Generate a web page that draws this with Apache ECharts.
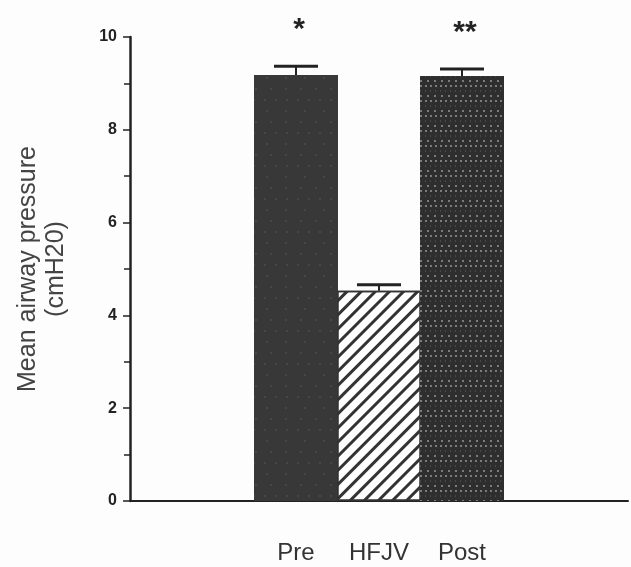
<!DOCTYPE html>
<html><head><meta charset="utf-8">
<script src="https://cdn.jsdelivr.net/npm/echarts@6/dist/echarts.min.js"></script>
<style>html,body{margin:0;padding:0;background:#fdfdfd}#c{width:631px;height:567px}</style>
</head><body><div id="c"></div>
<script>
var categories = ['Pre', 'HFJV', 'Post'];
var positions = [2, 3, 4];
var means = [9.18, 4.53, 9.16];
var errors = [0.19, 0.13, 0.15];
var marks = ['*', '', '**'];
var yTicks = [0, 2, 4, 6, 8, 10];

var styles = [
  {color:'#383838', decal:{symbol:'circle', color:'rgba(255,255,255,0.18)', symbolSize:0.8, dashArrayX:[[2,13],[2,9],[2,17]], dashArrayY:[2,9]}},
  {color:'#ffffff', borderColor:'#333', borderWidth:1.5, decal:{symbol:'rect', color:'#333', symbolSize:1, dashArrayX:[1,0], dashArrayY:[2.2,7], rotation:-Math.PI/4}},
  {color:'#2e2e2e', decal:{symbol:'circle', color:'rgba(255,255,255,0.55)', symbolSize:0.9, dashArrayX:[[2,3],[1,4],[2,5]], dashArrayY:[2,2.5]}}
];

var barData = categories.map(function(c,i){
  return {value:[positions[i], means[i]], itemStyle:styles[i]};
});
var errData = categories.map(function(c,i){ return [positions[i], means[i], errors[i], marks[i]]; });

var chart = echarts.init(document.getElementById('c'));
chart.setOption({
  backgroundColor:'#fdfdfd',
  animation:false,
  grid:{left:130, right:0, top:37, bottom:66},
  xAxis:{type:'value', min:0, max:6, interval:1,
    axisLine:{lineStyle:{color:'#222', width:2}},
    axisTick:{show:false}, splitLine:{show:false},
    axisLabel:{margin:40, fontFamily:'Liberation Sans', fontSize:24, color:'#333',
      formatter:function(v){ var i=positions.indexOf(v); return i>=0?categories[i]:''; }}},
  yAxis:{type:'value', min:0, max:10, interval:2,
    name:'Mean airway pressure\n(cmH20)', nameLocation:'middle', nameGap:60,
    nameTextStyle:{fontFamily:'Liberation Sans', fontSize:25, color:'#444', lineHeight:28},
    axisLine:{show:true, lineStyle:{color:'#222', width:2.5}},
    axisTick:{show:true, length:7, lineStyle:{color:'#222', width:1.5}},
    minorTick:{show:true, splitNumber:2, length:6, lineStyle:{color:'#222', width:1.5}},
    splitLine:{show:false},
    axisLabel:{margin:13, fontFamily:'Liberation Sans', fontSize:16, fontWeight:'bold', color:'#222',
      formatter:function(v){ return yTicks.indexOf(v)>=0 ? String(v) : ''; }}},
  series:[
    {type:'bar', data:barData, barWidth:84, z:2},
    {type:'custom', z:3, clip:false, data:errData,
      renderItem:function(params, api){
        var x=api.value(0), m=api.value(1), e=api.value(2);
        var mk = errData[params.dataIndex][3];
        var p0=api.coord([x,m]), p1=api.coord([x,m+e]);
        var children=[
          {type:'line', shape:{x1:p0[0],y1:p0[1],x2:p1[0],y2:p1[1]}, style:{stroke:'#222', lineWidth:2}},
          {type:'line', shape:{x1:p1[0]-22,y1:p1[1],x2:p1[0]+22,y2:p1[1]}, style:{stroke:'#222', lineWidth:3}}
        ];
        if(mk){ children.push({type:'text', style:{text:mk, x:p1[0]+3, y:p1[1]-36, textAlign:'center', textVerticalAlign:'middle', font:'bold 30px Liberation Sans', fill:'#222'}}); }
        return {type:'group', children:children};
      }}
  ]
});
</script></body></html>
